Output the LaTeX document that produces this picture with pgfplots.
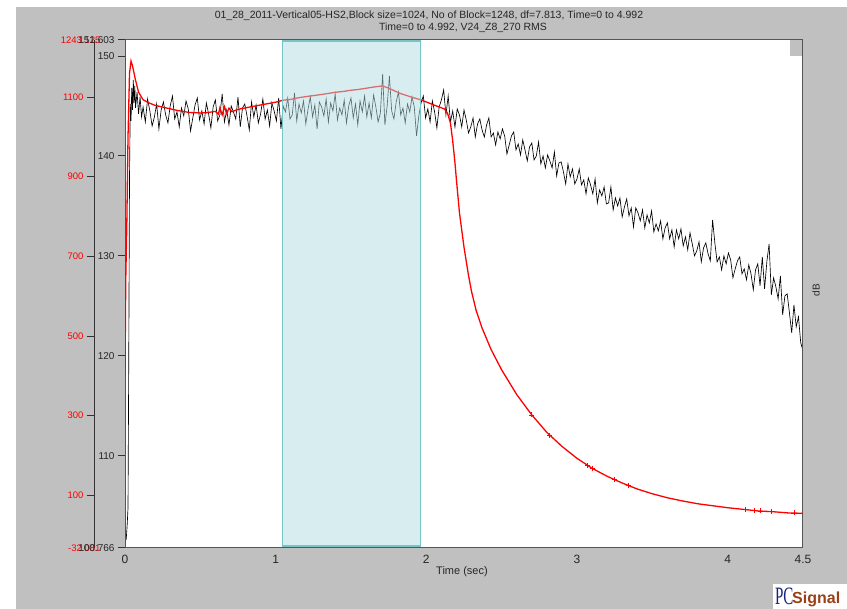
\documentclass[border=0pt]{standalone}
\usepackage{pgfplots}
\pgfplotsset{compat=1.18}
\usepackage{fontspec}
\setmainfont{Liberation Sans}
\newfontfamily\pcserif{Liberation Serif}
\definecolor{bggray}{RGB}{192,192,192}
\definecolor{boxfill}{rgb}{0.70,0.866,0.89}
\definecolor{boxedge}{RGB}{120,195,200}
\definecolor{axisgray}{RGB}{85,85,85}
\definecolor{pcblue}{RGB}{25,35,125}
\definecolor{pcbrown}{RGB}{155,65,25}
\begin{document}
\begin{tikzpicture}[x=1pt,y=1pt]
\fill[white] (0,0) rectangle (847,609);
\fill[bggray] (16,0) rectangle (847,602);
\node[font=\fontsize{10.5}{12}\selectfont, text=black!85] at (429,593) {01\_28\_2011-Vertical05-HS2,Block size=1024, No of Block=1248, df=7.813, Time=0 to 4.992};
\node[font=\fontsize{10.5}{12}\selectfont, text=black!85] at (463,581) {Time=0 to 4.992, V24\_Z8\_270 RMS};
\node[font=\fontsize{11}{12}\selectfont, text=black!85] at (462,37) {Time (sec)};
\node[font=\fontsize{10}{11}\selectfont, text=black!85, rotate=90] at (816,319) {dB};
% red scale axis
\begin{axis}[
  at={(95pt,61pt)}, anchor=south west, scale only axis, width=20pt, height=508pt,
  xmin=0, xmax=1, ymin=-32.081, ymax=1243.125,
  axis x line=none, axis y line=left,
  y axis line style={draw=black!80, line width=1pt, -},
  ytick={100,300,500,700,900,1100}, yticklabels={100,300,500,700,900,1100},
  extra y ticks={-32.081,1243.125}, extra y tick labels={-32.081,1243.125},
  extra y tick style={major tick length=0pt, yticklabel style={xshift=9pt}},
  ytick align=outside, major tick length=8pt,
  ytick style={draw=black!80, line width=1pt},
  yticklabel style={font=\fontsize{9.5}{10}\selectfont, text=red},
  /pgf/number format/assume math mode=true,
]
\end{axis}
% black dB axis
\begin{axis}[
  at={(125pt,61pt)}, anchor=south west, scale only axis, width=678pt, height=508pt,
  xmin=0, xmax=4.5, ymin=100.766, ymax=151.603,
  axis background/.style={fill=white},
  axis on top,
  axis line style={draw=axisgray, line width=1pt},
  xtick={0,1,2,3,4,4.5}, xticklabels={0,1,2,3,4,4.5},
  ytick={110,120,130,140,150}, yticklabels={110,120,130,140,150},
  extra y ticks={100.766,151.603}, extra y tick labels={100.766,151.603},
  ytick pos=left, xtick pos=bottom,
  tick align=outside, major tick length=7pt,
  xtick style={draw=none},
  ytick style={draw=black!80, line width=1pt},
  yticklabel style={font=\fontsize{10}{11}\selectfont, text=black!85},
  xticklabel style={font=\fontsize{12}{13}\selectfont, text=black!85, yshift=3pt},
  /pgf/number format/assume math mode=true,
]
\addplot[black, line width=0.65pt] table[row sep=\\] {
x y\\
0 102.5\\ 0.008 101.6\\ 0.015 103.2\\ 0.02 104.8\\ 0.025 120\\ 0.03 138\\ 0.035 145.2\\ 0.04 143.5\\
0.045 146.8\\ 0.05 144.6\\ 0.055 147.6\\ 0.06 145.3\\ 0.065 147.0\\ 0.07 144.8\\ 0.08 146.4\\ 0.09 144.2\\
0.1 145.9\\ 0.11 143.9\\
0.120 144.9\\ 0.135 143.4\\ 0.150 145.7\\ 0.165 144.5\\ 0.180 143.0\\ 0.195 143.9\\ 0.210 145.2\\ 0.225 142.7\\
0.240 144.6\\ 0.255 145.4\\ 0.270 144.1\\ 0.285 143.3\\ 0.300 145.0\\ 0.315 146.0\\ 0.330 143.7\\ 0.345 144.4\\
0.360 142.9\\ 0.375 144.8\\ 0.390 144.0\\ 0.405 145.5\\ 0.420 144.7\\ 0.435 142.5\\ 0.450 143.8\\ 0.465 145.1\\
0.480 145.8\\ 0.495 143.6\\ 0.510 144.5\\ 0.525 143.2\\ 0.540 145.3\\ 0.555 144.2\\ 0.570 142.8\\ 0.585 144.9\\
0.600 145.6\\ 0.615 143.5\\ 0.630 144.1\\ 0.645 146.2\\ 0.660 143.4\\ 0.675 144.6\\ 0.690 143.1\\ 0.705 145.0\\
0.720 144.4\\ 0.735 143.7\\ 0.750 145.9\\ 0.765 142.9\\ 0.780 144.8\\ 0.795 145.2\\ 0.810 144.0\\ 0.825 142.6\\
0.840 145.4\\ 0.855 143.9\\ 0.870 145.1\\ 0.885 143.3\\ 0.900 144.2\\ 0.915 145.7\\ 0.930 143.7\\ 0.945 144.6\\
0.960 143.0\\ 0.975 145.3\\ 0.990 144.5\\ 1.005 143.5\\ 1.020 145.8\\ 1.035 142.7\\
1.050 145.0\\ 1.065 144.4\\ 1.080 145.8\\ 1.095 143.7\\ 1.110 144.1\\ 1.125 146.3\\ 1.140 143.5\\ 1.155 145.2\\
1.170 144.3\\ 1.185 145.5\\ 1.200 143.2\\ 1.215 144.7\\ 1.230 145.9\\ 1.245 143.9\\ 1.260 145.1\\ 1.275 142.7\\
1.290 145.4\\ 1.305 144.9\\ 1.320 144.0\\ 1.335 145.7\\ 1.350 143.4\\ 1.365 145.3\\ 1.380 144.5\\ 1.395 146.2\\
1.410 143.6\\ 1.425 144.8\\ 1.440 144.1\\ 1.455 145.6\\ 1.470 143.3\\ 1.485 145.0\\ 1.500 145.8\\ 1.515 143.8\\
1.530 145.2\\ 1.545 143.1\\ 1.560 145.5\\ 1.575 144.4\\ 1.590 146.0\\ 1.605 143.9\\
1.620 145.3\\ 1.635 143.8\\ 1.650 146.1\\ 1.665 144.9\\ 1.680 143.4\\ 1.695 144.3\\ 1.710 148.2\\ 1.725 143.1\\
1.740 145.0\\ 1.755 148.0\\ 1.770 144.5\\ 1.785 143.7\\ 1.800 145.4\\ 1.815 146.4\\ 1.830 144.1\\ 1.845 144.8\\
1.860 143.3\\ 1.875 145.2\\ 1.890 144.4\\ 1.905 145.9\\ 1.920 144.9\\ 1.935 142.0\\ 1.950 144.0\\ 1.965 145.3\\
1.980 146.0\\ 1.995 143.8\\ 2.010 144.7\\ 2.025 143.4\\ 2.040 145.5\\ 2.055 144.4\\ 2.070 142.8\\ 2.085 144.9\\
2.100 145.6\\ 2.115 146.6\\ 2.130 144.1\\ 2.145 146.0\\ 2.160 143.4\\ 2.175 144.5\\ 2.190 142.9\\ 2.205 144.7\\
2.220 144.1\\ 2.235 142.9\\ 2.250 144.6\\ 2.265 143.6\\ 2.280 142.3\\ 2.295 142.9\\ 2.310 143.8\\ 2.325 141.9\\
2.340 143.2\\ 2.355 143.7\\ 2.370 142.6\\ 2.385 141.9\\ 2.400 143.1\\ 2.415 143.8\\ 2.430 141.9\\ 2.445 142.3\\
2.460 141.1\\ 2.475 142.4\\ 2.490 141.7\\ 2.505 142.7\\ 2.520 142.0\\ 2.535 140.2\\ 2.550 141.1\\ 2.565 142.0\\
2.580 142.4\\ 2.595 140.6\\ 2.610 141.2\\ 2.625 140.1\\ 2.640 141.6\\ 2.655 140.6\\ 2.670 139.5\\ 2.685 140.9\\
2.700 141.3\\ 2.715 139.6\\ 2.730 140.0\\ 2.745 141.4\\ 2.760 139.2\\ 2.775 140.0\\ 2.790 138.8\\ 2.805 140.1\\
2.820 139.5\\ 2.835 138.8\\ 2.850 140.4\\ 2.865 138.0\\ 2.880 139.3\\ 2.895 139.4\\ 2.910 138.4\\ 2.925 137.2\\
2.940 139.2\\ 2.955 137.9\\ 2.970 138.7\\ 2.985 137.2\\ 3.000 137.7\\ 3.015 138.7\\ 3.030 137.1\\ 3.045 137.6\\
3.060 136.2\\ 3.075 137.8\\ 3.090 137.1\\ 3.105 136.2\\ 3.120 137.7\\ 3.135 135.3\\ 3.150 136.6\\ 3.165 136.0\\
3.180 136.9\\ 3.195 135.2\\ 3.210 135.3\\ 3.225 136.9\\ 3.240 134.6\\ 3.255 135.8\\ 3.270 135.0\\ 3.285 135.8\\
3.300 133.9\\ 3.315 134.9\\ 3.330 135.7\\ 3.345 134.0\\ 3.360 134.8\\ 3.375 132.9\\ 3.390 134.8\\ 3.405 134.3\\
3.420 133.5\\ 3.435 134.6\\ 3.450 132.8\\ 3.465 134.1\\ 3.480 133.3\\ 3.495 134.5\\ 3.510 132.4\\ 3.525 133.2\\
3.540 132.5\\ 3.555 133.5\\ 3.570 131.7\\ 3.585 132.8\\ 3.600 133.3\\ 3.615 131.7\\ 3.630 132.6\\ 3.645 130.9\\
3.660 132.6\\ 3.675 131.7\\ 3.690 132.7\\ 3.705 131.0\\ 3.720 131.9\\ 3.735 130.6\\ 3.750 132.3\\ 3.765 131.2\\
3.780 130.0\\ 3.795 130.5\\ 3.810 131.4\\ 3.825 129.4\\ 3.840 130.8\\ 3.855 131.3\\ 3.870 130.2\\ 3.885 129.5\\
3.900 133.6\\ 3.915 131.3\\ 3.930 129.4\\ 3.945 129.9\\ 3.960 128.6\\ 3.975 130.0\\ 3.990 129.2\\ 4.005 130.3\\
4.020 129.6\\ 4.035 127.8\\ 4.050 128.7\\ 4.065 129.5\\ 4.080 129.9\\ 4.095 128.2\\ 4.110 128.7\\ 4.125 127.6\\
4.140 129.1\\ 4.155 128.2\\ 4.170 126.6\\ 4.185 128.6\\ 4.200 129.2\\ 4.215 127.0\\ 4.230 129.9\\ 4.245 126.7\\
4.260 129.4\\ 4.275 131.2\\ 4.290 126.1\\ 4.305 127.8\\ 4.320 126.9\\ 4.335 125.7\\ 4.350 128.0\\ 4.365 124.1\\
4.380 126.0\\ 4.395 126.2\\ 4.410 124.3\\ 4.425 122.3\\ 4.440 125.1\\ 4.455 122.9\\ 4.470 123.9\\ 4.485 121.3\\
4.500 120.5\\
};
\fill[bggray] (rel axis cs:0.981,0.9685) rectangle (rel axis cs:1,1);
\end{axis}
% red data axis
\begin{axis}[
  at={(125pt,61pt)}, anchor=south west, scale only axis, width=678pt, height=508pt,
  xmin=0, xmax=4.5, ymin=-32.081, ymax=1243.125, hide axis,
]
\addplot[red, line width=1.3pt] coordinates {
(0,400) (0.005,640) (0.012,780) (0.02,1000) (0.03,1160) (0.04,1190) (0.05,1178) (0.07,1142)
(0.09,1112) (0.12,1093) (0.16,1085) (0.2,1079) (0.28,1072) (0.35,1066) (0.43,1061) (0.5,1060)
(0.55,1061) (0.6,1064) (0.62,1057) (0.63,1073) (0.645,1055) (0.66,1076) (0.675,1058) (0.69,1072)
(0.71,1063) (0.75,1069) (0.83,1075) (0.9,1080) (1.0,1087) (1.05,1092) (1.1,1094) (1.15,1098)
(1.2,1101) (1.28,1105) (1.35,1109) (1.4,1112) (1.45,1114) (1.5,1117) (1.55,1119) (1.6,1122)
(1.65,1125) (1.71,1128) (1.75,1122) (1.78,1117) (1.82,1110) (1.85,1106) (1.9,1100) (1.97,1092)
(2.05,1080) (2.12,1070) (2.14,1060) (2.16,1035) (2.175,990) (2.19,935) (2.2,891) (2.22,809)
(2.25,723) (2.28,652) (2.3,612) (2.33,565) (2.37,520) (2.43,466) (2.5,415) (2.6,353) (2.7,302)
(2.8,258) (2.9,223) (3.0,193) (3.1,168) (3.2,148) (3.3,131) (3.4,116) (3.5,104) (3.6,94)
(3.7,86) (3.8,79) (3.9,74) (4.0,69) (4.1,65) (4.2,61) (4.3,59) (4.4,56) (4.5,55)
};
\addplot[only marks, mark=+, mark size=2.5pt, red, line width=0.8pt] coordinates {
(2.7,302) (2.82,251) (3.07,175) (3.1,168) (3.25,139) (3.34,125) (4.12,64) (4.18,62) (4.22,61) (4.29,59) (4.44,56)
};
\fill[boxfill, fill opacity=0.5] (axis cs:1.047,-27) rectangle (axis cs:1.96,1240);
\draw[boxedge, line width=1.5pt] (axis cs:1.047,-27) rectangle (axis cs:1.96,1240);
\end{axis}
% logo
\fill[white] (773,0) rectangle (847,25);
\node[anchor=base west, inner sep=0pt, text=pcblue, xscale=0.6, font=\pcserif\fontsize{25}{25}\selectfont] at (775,4) {PC};
\node[anchor=base west, inner sep=0pt, text=pcbrown, font=\bfseries\fontsize{16}{16}\selectfont] at (792,5) {Signal};
\end{tikzpicture}
\end{document}
